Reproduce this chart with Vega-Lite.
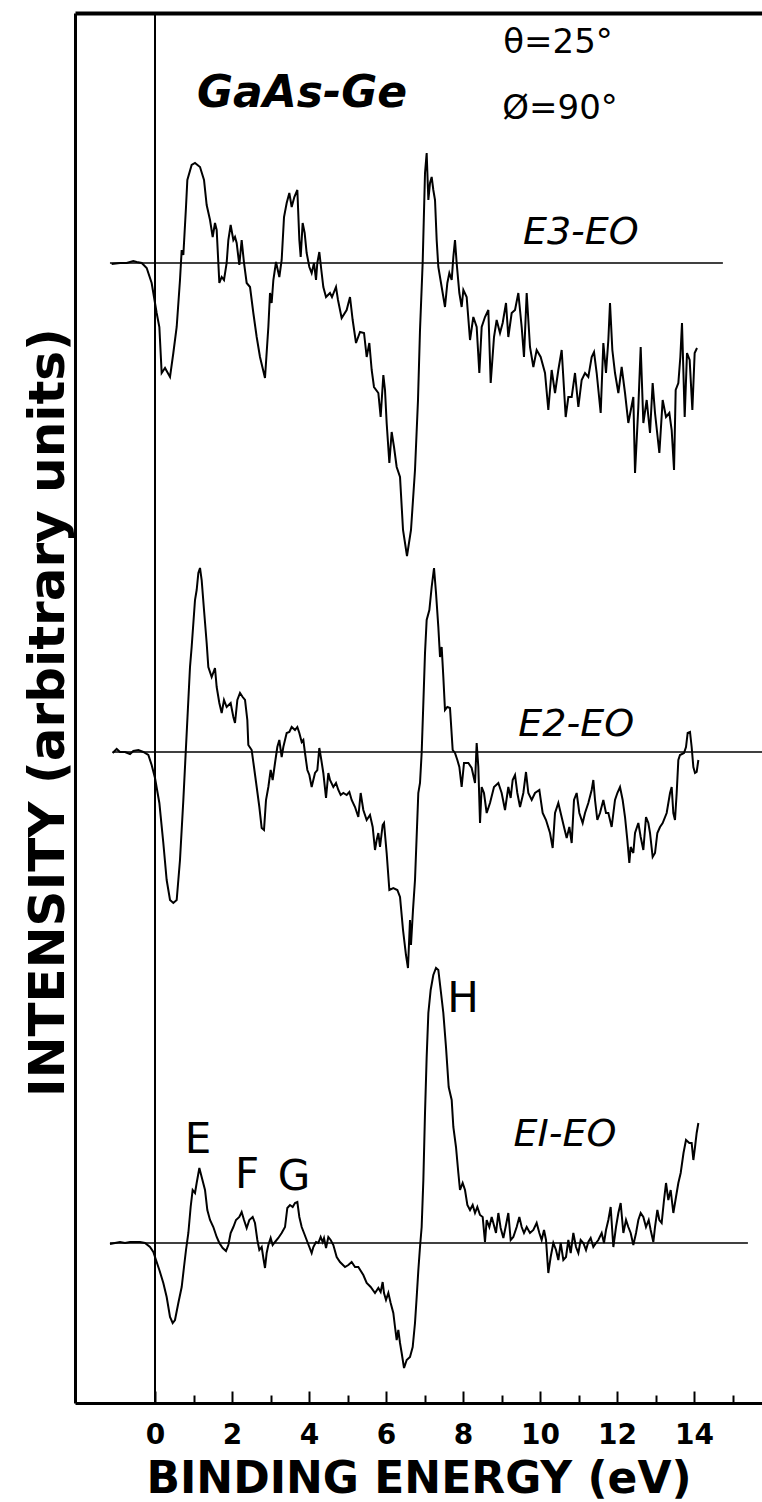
{
"$schema": "https://vega.github.io/schema/vega-lite/v6.json",
"width": 687, "height": 1390,
"autosize": {"type": "none"},
"padding": {"left": 75, "top": 13, "right": 0, "bottom": 99},
"background": "white",
"config": {"view": {"stroke": null}, "font": "DejaVu Sans"},
"datasets": {
"traces": [
{"series":"E3-E0","energy":-1.126,"intensity":1139},{"series":"E3-E0","energy":-0.909,"intensity":1140},{"series":"E3-E0","energy":-0.736,"intensity":1140},{"series":"E3-E0","energy":-0.563,"intensity":1142},{"series":"E3-E0","energy":-0.476,"intensity":1141},{"series":"E3-E0","energy":-0.346,"intensity":1140},{"series":"E3-E0","energy":-0.216,"intensity":1135},{"series":"E3-E0","energy":-0.087,"intensity":1120},{"series":"E3-E0","energy":-0.026,"intensity":1106},{"series":"E3-E0","energy":0.043,"intensity":1090},{"series":"E3-E0","energy":0.113,"intensity":1076},{"series":"E3-E0","energy":0.173,"intensity":1030},{"series":"E3-E0","energy":0.26,"intensity":1035},{"series":"E3-E0","energy":0.39,"intensity":1026},{"series":"E3-E0","energy":0.476,"intensity":1050},{"series":"E3-E0","energy":0.563,"intensity":1076},{"series":"E3-E0","energy":0.649,"intensity":1123},{"series":"E3-E0","energy":0.693,"intensity":1153},{"series":"E3-E0","energy":0.736,"intensity":1148},{"series":"E3-E0","energy":0.805,"intensity":1196},{"series":"E3-E0","energy":0.84,"intensity":1223},{"series":"E3-E0","energy":0.952,"intensity":1238},{"series":"E3-E0","energy":1.039,"intensity":1240},{"series":"E3-E0","energy":1.169,"intensity":1236},{"series":"E3-E0","energy":1.273,"intensity":1223},{"series":"E3-E0","energy":1.342,"intensity":1198},{"series":"E3-E0","energy":1.429,"intensity":1183},{"series":"E3-E0","energy":1.498,"intensity":1166},{"series":"E3-E0","energy":1.558,"intensity":1180},{"series":"E3-E0","energy":1.602,"intensity":1173},{"series":"E3-E0","energy":1.671,"intensity":1120},{"series":"E3-E0","energy":1.732,"intensity":1126},{"series":"E3-E0","energy":1.792,"intensity":1123},{"series":"E3-E0","energy":1.861,"intensity":1140},{"series":"E3-E0","energy":1.905,"intensity":1163},{"series":"E3-E0","energy":1.965,"intensity":1178},{"series":"E3-E0","energy":2.035,"intensity":1163},{"series":"E3-E0","energy":2.078,"intensity":1166},{"series":"E3-E0","energy":2.121,"intensity":1160},{"series":"E3-E0","energy":2.19,"intensity":1138},{"series":"E3-E0","energy":2.251,"intensity":1163},{"series":"E3-E0","energy":2.312,"intensity":1140},{"series":"E3-E0","energy":2.381,"intensity":1120},{"series":"E3-E0","energy":2.468,"intensity":1116},{"series":"E3-E0","energy":2.554,"intensity":1090},{"series":"E3-E0","energy":2.641,"intensity":1066},{"series":"E3-E0","energy":2.727,"intensity":1046},{"series":"E3-E0","energy":2.857,"intensity":1025},{"series":"E3-E0","energy":2.944,"intensity":1076},{"series":"E3-E0","energy":2.987,"intensity":1110},{"series":"E3-E0","energy":3.03,"intensity":1100},{"series":"E3-E0","energy":3.074,"intensity":1123},{"series":"E3-E0","energy":3.143,"intensity":1141},{"series":"E3-E0","energy":3.229,"intensity":1126},{"series":"E3-E0","energy":3.29,"intensity":1143},{"series":"E3-E0","energy":3.351,"intensity":1186},{"series":"E3-E0","energy":3.42,"intensity":1200},{"series":"E3-E0","energy":3.489,"intensity":1210},{"series":"E3-E0","energy":3.55,"intensity":1196},{"series":"E3-E0","energy":3.619,"intensity":1206},{"series":"E3-E0","energy":3.697,"intensity":1213},{"series":"E3-E0","energy":3.749,"intensity":1163},{"series":"E3-E0","energy":3.784,"intensity":1146},{"series":"E3-E0","energy":3.835,"intensity":1180},{"series":"E3-E0","energy":3.887,"intensity":1170},{"series":"E3-E0","energy":3.939,"intensity":1150},{"series":"E3-E0","energy":4.009,"intensity":1136},{"series":"E3-E0","energy":4.069,"intensity":1130},{"series":"E3-E0","energy":4.13,"intensity":1140},{"series":"E3-E0","energy":4.182,"intensity":1123},{"series":"E3-E0","energy":4.216,"intensity":1140},{"series":"E3-E0","energy":4.268,"intensity":1151},{"series":"E3-E0","energy":4.32,"intensity":1133},{"series":"E3-E0","energy":4.372,"intensity":1116},{"series":"E3-E0","energy":4.442,"intensity":1106},{"series":"E3-E0","energy":4.545,"intensity":1110},{"series":"E3-E0","energy":4.597,"intensity":1106},{"series":"E3-E0","energy":4.701,"intensity":1116},{"series":"E3-E0","energy":4.753,"intensity":1103},{"series":"E3-E0","energy":4.848,"intensity":1085},{"series":"E3-E0","energy":4.978,"intensity":1093},{"series":"E3-E0","energy":5.065,"intensity":1106},{"series":"E3-E0","energy":5.134,"intensity":1083},{"series":"E3-E0","energy":5.221,"intensity":1060},{"series":"E3-E0","energy":5.325,"intensity":1071},{"series":"E3-E0","energy":5.429,"intensity":1070},{"series":"E3-E0","energy":5.498,"intensity":1046},{"series":"E3-E0","energy":5.567,"intensity":1060},{"series":"E3-E0","energy":5.628,"intensity":1033},{"series":"E3-E0","energy":5.688,"intensity":1016},{"series":"E3-E0","energy":5.801,"intensity":1010},{"series":"E3-E0","energy":5.861,"intensity":986},{"series":"E3-E0","energy":5.931,"intensity":1028},{"series":"E3-E0","energy":5.974,"intensity":1013},{"series":"E3-E0","energy":6.017,"intensity":980},{"series":"E3-E0","energy":6.087,"intensity":940},{"series":"E3-E0","energy":6.147,"intensity":971},{"series":"E3-E0","energy":6.208,"intensity":956},{"series":"E3-E0","energy":6.277,"intensity":936},{"series":"E3-E0","energy":6.364,"intensity":926},{"series":"E3-E0","energy":6.442,"intensity":873},{"series":"E3-E0","energy":6.545,"intensity":847},{"series":"E3-E0","energy":6.649,"intensity":873},{"series":"E3-E0","energy":6.753,"intensity":933},{"series":"E3-E0","energy":6.831,"intensity":1003},{"series":"E3-E0","energy":6.883,"intensity":1073},{"series":"E3-E0","energy":6.952,"intensity":1140},{"series":"E3-E0","energy":7.013,"intensity":1230},{"series":"E3-E0","energy":7.056,"intensity":1250},{"series":"E3-E0","energy":7.1,"intensity":1203},{"series":"E3-E0","energy":7.143,"intensity":1220},{"series":"E3-E0","energy":7.186,"intensity":1226},{"series":"E3-E0","energy":7.229,"intensity":1213},{"series":"E3-E0","energy":7.273,"intensity":1203},{"series":"E3-E0","energy":7.316,"intensity":1163},{"series":"E3-E0","energy":7.359,"intensity":1136},{"series":"E3-E0","energy":7.446,"intensity":1116},{"series":"E3-E0","energy":7.532,"intensity":1096},{"series":"E3-E0","energy":7.593,"intensity":1120},{"series":"E3-E0","energy":7.645,"intensity":1130},{"series":"E3-E0","energy":7.706,"intensity":1123},{"series":"E3-E0","energy":7.749,"intensity":1146},{"series":"E3-E0","energy":7.792,"intensity":1163},{"series":"E3-E0","energy":7.835,"intensity":1140},{"series":"E3-E0","energy":7.905,"intensity":1110},{"series":"E3-E0","energy":7.965,"intensity":1096},{"series":"E3-E0","energy":8.009,"intensity":1113},{"series":"E3-E0","energy":8.095,"intensity":1106},{"series":"E3-E0","energy":8.182,"intensity":1063},{"series":"E3-E0","energy":8.268,"intensity":1086},{"series":"E3-E0","energy":8.355,"intensity":1076},{"series":"E3-E0","energy":8.424,"intensity":1030},{"series":"E3-E0","energy":8.485,"intensity":1076},{"series":"E3-E0","energy":8.571,"intensity":1086},{"series":"E3-E0","energy":8.658,"intensity":1093},{"series":"E3-E0","energy":8.719,"intensity":1020},{"series":"E3-E0","energy":8.805,"intensity":1066},{"series":"E3-E0","energy":8.874,"intensity":1083},{"series":"E3-E0","energy":8.961,"intensity":1070},{"series":"E3-E0","energy":9.03,"intensity":1080},{"series":"E3-E0","energy":9.117,"intensity":1100},{"series":"E3-E0","energy":9.177,"intensity":1066},{"series":"E3-E0","energy":9.264,"intensity":1090},{"series":"E3-E0","energy":9.351,"intensity":1093},{"series":"E3-E0","energy":9.437,"intensity":1110},{"series":"E3-E0","energy":9.524,"intensity":1076},{"series":"E3-E0","energy":9.584,"intensity":1046},{"series":"E3-E0","energy":9.654,"intensity":1110},{"series":"E3-E0","energy":9.74,"intensity":1056},{"series":"E3-E0","energy":9.827,"intensity":1036},{"series":"E3-E0","energy":9.913,"intensity":1053},{"series":"E3-E0","energy":10.017,"intensity":1046},{"series":"E3-E0","energy":10.13,"intensity":1030},{"series":"E3-E0","energy":10.216,"intensity":993},{"series":"E3-E0","energy":10.303,"intensity":1033},{"series":"E3-E0","energy":10.39,"intensity":1010},{"series":"E3-E0","energy":10.476,"intensity":1033},{"series":"E3-E0","energy":10.563,"intensity":1053},{"series":"E3-E0","energy":10.667,"intensity":986},{"series":"E3-E0","energy":10.736,"intensity":1006},{"series":"E3-E0","energy":10.823,"intensity":1006},{"series":"E3-E0","energy":10.909,"intensity":1030},{"series":"E3-E0","energy":10.996,"intensity":996},{"series":"E3-E0","energy":11.082,"intensity":1023},{"series":"E3-E0","energy":11.169,"intensity":1030},{"series":"E3-E0","energy":11.255,"intensity":1026},{"series":"E3-E0","energy":11.342,"intensity":1046},{"series":"E3-E0","energy":11.403,"intensity":1051},{"series":"E3-E0","energy":11.472,"intensity":1030},{"series":"E3-E0","energy":11.576,"intensity":990},{"series":"E3-E0","energy":11.645,"intensity":1060},{"series":"E3-E0","energy":11.714,"intensity":1030},{"series":"E3-E0","energy":11.775,"intensity":1063},{"series":"E3-E0","energy":11.818,"intensity":1100},{"series":"E3-E0","energy":11.879,"intensity":1053},{"series":"E3-E0","energy":11.948,"intensity":1030},{"series":"E3-E0","energy":12.035,"intensity":1010},{"series":"E3-E0","energy":12.121,"intensity":1036},{"series":"E3-E0","energy":12.208,"intensity":1010},{"series":"E3-E0","energy":12.294,"intensity":980},{"series":"E3-E0","energy":12.424,"intensity":1006},{"series":"E3-E0","energy":12.468,"intensity":930},{"series":"E3-E0","energy":12.554,"intensity":996},{"series":"E3-E0","energy":12.615,"intensity":1056},{"series":"E3-E0","energy":12.684,"intensity":980},{"series":"E3-E0","energy":12.771,"intensity":1003},{"series":"E3-E0","energy":12.857,"intensity":970},{"series":"E3-E0","energy":12.926,"intensity":1020},{"series":"E3-E0","energy":12.987,"intensity":990},{"series":"E3-E0","energy":13.1,"intensity":950},{"series":"E3-E0","energy":13.186,"intensity":1003},{"series":"E3-E0","energy":13.273,"intensity":986},{"series":"E3-E0","energy":13.359,"intensity":990},{"series":"E3-E0","energy":13.42,"intensity":973},{"series":"E3-E0","energy":13.481,"intensity":933},{"series":"E3-E0","energy":13.524,"intensity":1013},{"series":"E3-E0","energy":13.593,"intensity":1020},{"series":"E3-E0","energy":13.645,"intensity":1046},{"series":"E3-E0","energy":13.688,"intensity":1080},{"series":"E3-E0","energy":13.758,"intensity":986},{"series":"E3-E0","energy":13.818,"intensity":1050},{"series":"E3-E0","energy":13.887,"intensity":1043},{"series":"E3-E0","energy":13.957,"intensity":993},{"series":"E3-E0","energy":14.017,"intensity":1050},{"series":"E3-E0","energy":14.078,"intensity":1055},
{"series":"E2-E0","energy":-1.1,"intensity":650},{"series":"E2-E0","energy":-0.996,"intensity":654},{"series":"E2-E0","energy":-0.909,"intensity":651},{"series":"E2-E0","energy":-0.779,"intensity":651},{"series":"E2-E0","energy":-0.649,"intensity":649},{"series":"E2-E0","energy":-0.563,"intensity":652},{"series":"E2-E0","energy":-0.433,"intensity":653},{"series":"E2-E0","energy":-0.303,"intensity":651},{"series":"E2-E0","energy":-0.173,"intensity":648},{"series":"E2-E0","energy":-0.087,"intensity":638},{"series":"E2-E0","energy":0.0,"intensity":625},{"series":"E2-E0","energy":0.113,"intensity":600},{"series":"E2-E0","energy":0.216,"intensity":560},{"series":"E2-E0","energy":0.303,"intensity":523},{"series":"E2-E0","energy":0.39,"intensity":503},{"series":"E2-E0","energy":0.476,"intensity":500},{"series":"E2-E0","energy":0.563,"intensity":503},{"series":"E2-E0","energy":0.606,"intensity":523},{"series":"E2-E0","energy":0.649,"intensity":543},{"series":"E2-E0","energy":0.736,"intensity":603},{"series":"E2-E0","energy":0.84,"intensity":683},{"series":"E2-E0","energy":0.909,"intensity":736},{"series":"E2-E0","energy":0.952,"intensity":756},{"series":"E2-E0","energy":1.039,"intensity":803},{"series":"E2-E0","energy":1.082,"intensity":813},{"series":"E2-E0","energy":1.126,"intensity":830},{"series":"E2-E0","energy":1.169,"intensity":835},{"series":"E2-E0","energy":1.212,"intensity":823},{"series":"E2-E0","energy":1.273,"intensity":793},{"series":"E2-E0","energy":1.342,"intensity":760},{"series":"E2-E0","energy":1.385,"intensity":736},{"series":"E2-E0","energy":1.472,"intensity":726},{"series":"E2-E0","energy":1.558,"intensity":735},{"series":"E2-E0","energy":1.602,"intensity":716},{"series":"E2-E0","energy":1.671,"intensity":700},{"series":"E2-E0","energy":1.732,"intensity":690},{"series":"E2-E0","energy":1.792,"intensity":703},{"series":"E2-E0","energy":1.861,"intensity":696},{"series":"E2-E0","energy":1.965,"intensity":700},{"series":"E2-E0","energy":2.035,"intensity":686},{"series":"E2-E0","energy":2.078,"intensity":680},{"series":"E2-E0","energy":2.139,"intensity":703},{"series":"E2-E0","energy":2.208,"intensity":710},{"series":"E2-E0","energy":2.277,"intensity":706},{"series":"E2-E0","energy":2.338,"intensity":703},{"series":"E2-E0","energy":2.398,"intensity":683},{"series":"E2-E0","energy":2.424,"intensity":658},{"series":"E2-E0","energy":2.511,"intensity":653},{"series":"E2-E0","energy":2.571,"intensity":636},{"series":"E2-E0","energy":2.641,"intensity":616},{"series":"E2-E0","energy":2.71,"intensity":596},{"series":"E2-E0","energy":2.771,"intensity":575},{"series":"E2-E0","energy":2.831,"intensity":573},{"series":"E2-E0","energy":2.883,"intensity":603},{"series":"E2-E0","energy":2.944,"intensity":616},{"series":"E2-E0","energy":3.004,"intensity":633},{"series":"E2-E0","energy":3.056,"intensity":623},{"series":"E2-E0","energy":3.117,"intensity":640},{"series":"E2-E0","energy":3.177,"intensity":656},{"series":"E2-E0","energy":3.229,"intensity":663},{"series":"E2-E0","energy":3.29,"intensity":646},{"series":"E2-E0","energy":3.333,"intensity":656},{"series":"E2-E0","energy":3.42,"intensity":670},{"series":"E2-E0","energy":3.489,"intensity":671},{"series":"E2-E0","energy":3.55,"intensity":676},{"series":"E2-E0","energy":3.636,"intensity":673},{"series":"E2-E0","energy":3.697,"intensity":676},{"series":"E2-E0","energy":3.749,"intensity":670},{"series":"E2-E0","energy":3.81,"intensity":661},{"series":"E2-E0","energy":3.853,"intensity":663},{"series":"E2-E0","energy":3.896,"intensity":650},{"series":"E2-E0","energy":3.957,"intensity":633},{"series":"E2-E0","energy":4.009,"intensity":628},{"series":"E2-E0","energy":4.069,"intensity":616},{"series":"E2-E0","energy":4.156,"intensity":630},{"series":"E2-E0","energy":4.216,"intensity":633},{"series":"E2-E0","energy":4.268,"intensity":655},{"series":"E2-E0","energy":4.32,"intensity":643},{"series":"E2-E0","energy":4.372,"intensity":630},{"series":"E2-E0","energy":4.442,"intensity":605},{"series":"E2-E0","energy":4.502,"intensity":630},{"series":"E2-E0","energy":4.545,"intensity":623},{"series":"E2-E0","energy":4.632,"intensity":616},{"series":"E2-E0","energy":4.701,"intensity":620},{"series":"E2-E0","energy":4.762,"intensity":613},{"series":"E2-E0","energy":4.823,"intensity":608},{"series":"E2-E0","energy":4.892,"intensity":610},{"series":"E2-E0","energy":4.978,"intensity":608},{"series":"E2-E0","energy":5.048,"intensity":611},{"series":"E2-E0","energy":5.108,"intensity":603},{"series":"E2-E0","energy":5.195,"intensity":596},{"series":"E2-E0","energy":5.281,"intensity":586},{"series":"E2-E0","energy":5.342,"intensity":610},{"series":"E2-E0","energy":5.411,"intensity":593},{"series":"E2-E0","energy":5.498,"intensity":583},{"series":"E2-E0","energy":5.584,"intensity":588},{"series":"E2-E0","energy":5.654,"intensity":576},{"series":"E2-E0","energy":5.714,"intensity":553},{"series":"E2-E0","energy":5.758,"intensity":563},{"series":"E2-E0","energy":5.801,"intensity":570},{"series":"E2-E0","energy":5.844,"intensity":556},{"series":"E2-E0","energy":5.913,"intensity":578},{"series":"E2-E0","energy":5.948,"intensity":580},{"series":"E2-E0","energy":6.017,"intensity":550},{"series":"E2-E0","energy":6.087,"intensity":513},{"series":"E2-E0","energy":6.19,"intensity":515},{"series":"E2-E0","energy":6.294,"intensity":513},{"series":"E2-E0","energy":6.364,"intensity":506},{"series":"E2-E0","energy":6.442,"intensity":473},{"series":"E2-E0","energy":6.519,"intensity":448},{"series":"E2-E0","energy":6.571,"intensity":435},{"series":"E2-E0","energy":6.623,"intensity":483},{"series":"E2-E0","energy":6.649,"intensity":458},{"series":"E2-E0","energy":6.701,"intensity":493},{"series":"E2-E0","energy":6.753,"intensity":523},{"series":"E2-E0","energy":6.839,"intensity":610},{"series":"E2-E0","energy":6.883,"intensity":620},{"series":"E2-E0","energy":6.926,"intensity":650},{"series":"E2-E0","energy":6.97,"intensity":700},{"series":"E2-E0","energy":7.013,"intensity":750},{"series":"E2-E0","energy":7.056,"intensity":783},{"series":"E2-E0","energy":7.126,"intensity":793},{"series":"E2-E0","energy":7.186,"intensity":816},{"series":"E2-E0","energy":7.247,"intensity":835},{"series":"E2-E0","energy":7.299,"intensity":810},{"series":"E2-E0","energy":7.359,"intensity":776},{"series":"E2-E0","energy":7.403,"intensity":746},{"series":"E2-E0","energy":7.446,"intensity":756},{"series":"E2-E0","energy":7.489,"intensity":726},{"series":"E2-E0","energy":7.532,"intensity":693},{"series":"E2-E0","energy":7.593,"intensity":696},{"series":"E2-E0","energy":7.662,"intensity":695},{"series":"E2-E0","energy":7.732,"intensity":653},{"series":"E2-E0","energy":7.792,"intensity":650},{"series":"E2-E0","energy":7.853,"intensity":643},{"series":"E2-E0","energy":7.905,"intensity":636},{"series":"E2-E0","energy":7.965,"intensity":616},{"series":"E2-E0","energy":8.026,"intensity":640},{"series":"E2-E0","energy":8.139,"intensity":640},{"series":"E2-E0","energy":8.225,"intensity":635},{"series":"E2-E0","energy":8.312,"intensity":620},{"series":"E2-E0","energy":8.355,"intensity":660},{"series":"E2-E0","energy":8.398,"intensity":636},{"series":"E2-E0","energy":8.442,"intensity":580},{"series":"E2-E0","energy":8.485,"intensity":616},{"series":"E2-E0","energy":8.545,"intensity":610},{"series":"E2-E0","energy":8.615,"intensity":590},{"series":"E2-E0","energy":8.701,"intensity":600},{"series":"E2-E0","energy":8.805,"intensity":616},{"series":"E2-E0","energy":8.918,"intensity":620},{"series":"E2-E0","energy":9.004,"intensity":610},{"series":"E2-E0","energy":9.091,"intensity":593},{"series":"E2-E0","energy":9.177,"intensity":616},{"series":"E2-E0","energy":9.238,"intensity":605},{"series":"E2-E0","energy":9.29,"intensity":623},{"series":"E2-E0","energy":9.351,"intensity":628},{"series":"E2-E0","energy":9.411,"intensity":610},{"series":"E2-E0","energy":9.481,"intensity":596},{"series":"E2-E0","energy":9.567,"intensity":610},{"series":"E2-E0","energy":9.636,"intensity":631},{"series":"E2-E0","energy":9.697,"intensity":610},{"series":"E2-E0","energy":9.784,"intensity":603},{"series":"E2-E0","energy":9.87,"intensity":610},{"series":"E2-E0","energy":9.983,"intensity":613},{"series":"E2-E0","energy":10.069,"intensity":590},{"series":"E2-E0","energy":10.156,"intensity":583},{"series":"E2-E0","energy":10.26,"intensity":570},{"series":"E2-E0","energy":10.329,"intensity":555},{"series":"E2-E0","energy":10.39,"intensity":590},{"series":"E2-E0","energy":10.476,"intensity":600},{"series":"E2-E0","energy":10.537,"intensity":590},{"series":"E2-E0","energy":10.623,"intensity":576},{"series":"E2-E0","energy":10.693,"intensity":565},{"series":"E2-E0","energy":10.762,"intensity":576},{"series":"E2-E0","energy":10.823,"intensity":560},{"series":"E2-E0","energy":10.883,"intensity":603},{"series":"E2-E0","energy":10.952,"intensity":610},{"series":"E2-E0","energy":11.022,"intensity":590},{"series":"E2-E0","energy":11.108,"intensity":580},{"series":"E2-E0","energy":11.169,"intensity":590},{"series":"E2-E0","energy":11.255,"intensity":600},{"series":"E2-E0","energy":11.342,"intensity":613},{"series":"E2-E0","energy":11.385,"intensity":623},{"series":"E2-E0","energy":11.429,"intensity":603},{"series":"E2-E0","energy":11.489,"intensity":583},{"series":"E2-E0","energy":11.558,"intensity":590},{"series":"E2-E0","energy":11.645,"intensity":603},{"series":"E2-E0","energy":11.714,"intensity":590},{"series":"E2-E0","energy":11.775,"intensity":590},{"series":"E2-E0","energy":11.861,"intensity":576},{"series":"E2-E0","energy":11.948,"intensity":603},{"series":"E2-E0","energy":12.009,"intensity":610},{"series":"E2-E0","energy":12.078,"intensity":616},{"series":"E2-E0","energy":12.147,"intensity":603},{"series":"E2-E0","energy":12.208,"intensity":586},{"series":"E2-E0","energy":12.268,"intensity":563},{"series":"E2-E0","energy":12.32,"intensity":540},{"series":"E2-E0","energy":12.355,"intensity":556},{"series":"E2-E0","energy":12.424,"intensity":550},{"series":"E2-E0","energy":12.468,"intensity":570},{"series":"E2-E0","energy":12.554,"intensity":580},{"series":"E2-E0","energy":12.615,"intensity":566},{"series":"E2-E0","energy":12.684,"intensity":553},{"series":"E2-E0","energy":12.753,"intensity":586},{"series":"E2-E0","energy":12.814,"intensity":580},{"series":"E2-E0","energy":12.857,"intensity":570},{"series":"E2-E0","energy":12.926,"intensity":546},{"series":"E2-E0","energy":12.987,"intensity":550},{"series":"E2-E0","energy":13.048,"intensity":570},{"series":"E2-E0","energy":13.117,"intensity":576},{"series":"E2-E0","energy":13.186,"intensity":580},{"series":"E2-E0","energy":13.29,"intensity":590},{"series":"E2-E0","energy":13.377,"intensity":610},{"series":"E2-E0","energy":13.42,"intensity":616},{"series":"E2-E0","energy":13.463,"intensity":590},{"series":"E2-E0","energy":13.506,"intensity":583},{"series":"E2-E0","energy":13.55,"intensity":610},{"series":"E2-E0","energy":13.593,"intensity":643},{"series":"E2-E0","energy":13.636,"intensity":648},{"series":"E2-E0","energy":13.74,"intensity":650},{"series":"E2-E0","energy":13.792,"intensity":656},{"series":"E2-E0","energy":13.835,"intensity":670},{"series":"E2-E0","energy":13.896,"intensity":671},{"series":"E2-E0","energy":13.939,"intensity":656},{"series":"E2-E0","energy":13.983,"intensity":636},{"series":"E2-E0","energy":14.026,"intensity":630},{"series":"E2-E0","energy":14.069,"intensity":631},{"series":"E2-E0","energy":14.113,"intensity":643},
{"series":"E1-E0","energy":-1.169,"intensity":159},{"series":"E1-E0","energy":-1.039,"intensity":160},{"series":"E1-E0","energy":-0.909,"intensity":161},{"series":"E1-E0","energy":-0.779,"intensity":160},{"series":"E1-E0","energy":-0.649,"intensity":161},{"series":"E1-E0","energy":-0.519,"intensity":161},{"series":"E1-E0","energy":-0.39,"intensity":161},{"series":"E1-E0","energy":-0.26,"intensity":160},{"series":"E1-E0","energy":-0.13,"intensity":156},{"series":"E1-E0","energy":-0.043,"intensity":151},{"series":"E1-E0","energy":0.026,"intensity":143},{"series":"E1-E0","energy":0.113,"intensity":133},{"series":"E1-E0","energy":0.216,"intensity":120},{"series":"E1-E0","energy":0.303,"intensity":106},{"series":"E1-E0","energy":0.39,"intensity":86},{"series":"E1-E0","energy":0.459,"intensity":80},{"series":"E1-E0","energy":0.519,"intensity":83},{"series":"E1-E0","energy":0.606,"intensity":100},{"series":"E1-E0","energy":0.693,"intensity":116},{"series":"E1-E0","energy":0.753,"intensity":136},{"series":"E1-E0","energy":0.805,"intensity":153},{"series":"E1-E0","energy":0.866,"intensity":170},{"series":"E1-E0","energy":0.926,"intensity":196},{"series":"E1-E0","energy":0.978,"intensity":213},{"series":"E1-E0","energy":1.039,"intensity":210},{"series":"E1-E0","energy":1.082,"intensity":220},{"series":"E1-E0","energy":1.152,"intensity":235},{"series":"E1-E0","energy":1.212,"intensity":226},{"series":"E1-E0","energy":1.299,"intensity":213},{"series":"E1-E0","energy":1.359,"intensity":193},{"series":"E1-E0","energy":1.429,"intensity":183},{"series":"E1-E0","energy":1.515,"intensity":176},{"series":"E1-E0","energy":1.602,"intensity":166},{"series":"E1-E0","energy":1.671,"intensity":160},{"series":"E1-E0","energy":1.758,"intensity":155},{"series":"E1-E0","energy":1.844,"intensity":152},{"series":"E1-E0","energy":1.905,"intensity":158},{"series":"E1-E0","energy":1.965,"intensity":170},{"series":"E1-E0","energy":2.035,"intensity":176},{"series":"E1-E0","energy":2.104,"intensity":183},{"series":"E1-E0","energy":2.19,"intensity":186},{"series":"E1-E0","energy":2.251,"intensity":191},{"series":"E1-E0","energy":2.312,"intensity":183},{"series":"E1-E0","energy":2.381,"intensity":175},{"series":"E1-E0","energy":2.45,"intensity":183},{"series":"E1-E0","energy":2.537,"intensity":186},{"series":"E1-E0","energy":2.597,"intensity":180},{"series":"E1-E0","energy":2.658,"intensity":163},{"series":"E1-E0","energy":2.71,"intensity":153},{"series":"E1-E0","energy":2.771,"intensity":156},{"series":"E1-E0","energy":2.814,"intensity":145},{"series":"E1-E0","energy":2.857,"intensity":135},{"series":"E1-E0","energy":2.9,"intensity":150},{"series":"E1-E0","energy":2.944,"intensity":158},{"series":"E1-E0","energy":3.004,"intensity":165},{"series":"E1-E0","energy":3.056,"intensity":158},{"series":"E1-E0","energy":3.117,"intensity":161},{"series":"E1-E0","energy":3.203,"intensity":165},{"series":"E1-E0","energy":3.29,"intensity":170},{"series":"E1-E0","energy":3.377,"intensity":176},{"series":"E1-E0","energy":3.437,"intensity":195},{"series":"E1-E0","energy":3.506,"intensity":198},{"series":"E1-E0","energy":3.576,"intensity":196},{"series":"E1-E0","energy":3.636,"intensity":200},{"series":"E1-E0","energy":3.697,"intensity":201},{"series":"E1-E0","energy":3.749,"intensity":186},{"series":"E1-E0","energy":3.81,"intensity":176},{"series":"E1-E0","energy":3.87,"intensity":170},{"series":"E1-E0","energy":3.939,"intensity":163},{"series":"E1-E0","energy":4.009,"intensity":156},{"series":"E1-E0","energy":4.069,"intensity":150},{"series":"E1-E0","energy":4.113,"intensity":156},{"series":"E1-E0","energy":4.182,"intensity":161},{"series":"E1-E0","energy":4.242,"intensity":160},{"series":"E1-E0","energy":4.303,"intensity":166},{"series":"E1-E0","energy":4.355,"intensity":161},{"series":"E1-E0","energy":4.39,"intensity":165},{"series":"E1-E0","energy":4.442,"intensity":155},{"series":"E1-E0","energy":4.502,"intensity":166},{"series":"E1-E0","energy":4.563,"intensity":163},{"series":"E1-E0","energy":4.632,"intensity":158},{"series":"E1-E0","energy":4.719,"intensity":146},{"series":"E1-E0","energy":4.805,"intensity":141},{"series":"E1-E0","energy":4.935,"intensity":136},{"series":"E1-E0","energy":5.022,"intensity":138},{"series":"E1-E0","energy":5.108,"intensity":141},{"series":"E1-E0","energy":5.195,"intensity":136},{"series":"E1-E0","energy":5.281,"intensity":136},{"series":"E1-E0","energy":5.411,"intensity":128},{"series":"E1-E0","energy":5.498,"intensity":120},{"series":"E1-E0","energy":5.602,"intensity":116},{"series":"E1-E0","energy":5.714,"intensity":110},{"series":"E1-E0","energy":5.801,"intensity":115},{"series":"E1-E0","energy":5.861,"intensity":111},{"series":"E1-E0","energy":5.913,"intensity":121},{"series":"E1-E0","energy":5.948,"intensity":110},{"series":"E1-E0","energy":6.0,"intensity":103},{"series":"E1-E0","energy":6.061,"intensity":110},{"series":"E1-E0","energy":6.121,"intensity":100},{"series":"E1-E0","energy":6.19,"intensity":90},{"series":"E1-E0","energy":6.234,"intensity":76},{"series":"E1-E0","energy":6.277,"intensity":63},{"series":"E1-E0","energy":6.32,"intensity":73},{"series":"E1-E0","energy":6.364,"intensity":60},{"series":"E1-E0","energy":6.407,"intensity":50},{"series":"E1-E0","energy":6.468,"intensity":35},{"series":"E1-E0","energy":6.537,"intensity":43},{"series":"E1-E0","energy":6.623,"intensity":46},{"series":"E1-E0","energy":6.693,"intensity":56},{"series":"E1-E0","energy":6.753,"intensity":80},{"series":"E1-E0","energy":6.797,"intensity":106},{"series":"E1-E0","energy":6.84,"intensity":133},{"series":"E1-E0","energy":6.883,"intensity":156},{"series":"E1-E0","energy":6.926,"intensity":176},{"series":"E1-E0","energy":6.97,"intensity":223},{"series":"E1-E0","energy":7.013,"intensity":290},{"series":"E1-E0","energy":7.056,"intensity":346},{"series":"E1-E0","energy":7.1,"intensity":390},{"series":"E1-E0","energy":7.16,"intensity":413},{"series":"E1-E0","energy":7.229,"intensity":428},{"series":"E1-E0","energy":7.299,"intensity":435},{"series":"E1-E0","energy":7.359,"intensity":433},{"series":"E1-E0","energy":7.42,"intensity":413},{"series":"E1-E0","energy":7.489,"intensity":390},{"series":"E1-E0","energy":7.558,"intensity":356},{"series":"E1-E0","energy":7.628,"intensity":316},{"series":"E1-E0","energy":7.706,"intensity":303},{"series":"E1-E0","energy":7.749,"intensity":276},{"series":"E1-E0","energy":7.818,"intensity":256},{"series":"E1-E0","energy":7.879,"intensity":230},{"series":"E1-E0","energy":7.922,"intensity":213},{"series":"E1-E0","energy":7.991,"intensity":220},{"series":"E1-E0","energy":8.052,"intensity":213},{"series":"E1-E0","energy":8.113,"intensity":198},{"series":"E1-E0","energy":8.182,"intensity":193},{"series":"E1-E0","energy":8.251,"intensity":198},{"series":"E1-E0","energy":8.312,"intensity":190},{"series":"E1-E0","energy":8.372,"intensity":196},{"series":"E1-E0","energy":8.442,"intensity":188},{"series":"E1-E0","energy":8.511,"intensity":186},{"series":"E1-E0","energy":8.571,"intensity":161},{"series":"E1-E0","energy":8.615,"intensity":183},{"series":"E1-E0","energy":8.684,"intensity":176},{"series":"E1-E0","energy":8.745,"intensity":186},{"series":"E1-E0","energy":8.788,"intensity":180},{"series":"E1-E0","energy":8.857,"intensity":170},{"series":"E1-E0","energy":8.918,"intensity":190},{"series":"E1-E0","energy":8.978,"intensity":175},{"series":"E1-E0","energy":9.048,"intensity":165},{"series":"E1-E0","energy":9.117,"intensity":178},{"series":"E1-E0","energy":9.177,"intensity":190},{"series":"E1-E0","energy":9.238,"intensity":163},{"series":"E1-E0","energy":9.307,"intensity":166},{"series":"E1-E0","energy":9.394,"intensity":176},{"series":"E1-E0","energy":9.463,"intensity":186},{"series":"E1-E0","energy":9.524,"intensity":176},{"series":"E1-E0","energy":9.584,"intensity":170},{"series":"E1-E0","energy":9.654,"intensity":176},{"series":"E1-E0","energy":9.74,"intensity":170},{"series":"E1-E0","energy":9.827,"intensity":173},{"series":"E1-E0","energy":9.913,"intensity":180},{"series":"E1-E0","energy":9.983,"intensity":170},{"series":"E1-E0","energy":10.043,"intensity":163},{"series":"E1-E0","energy":10.104,"intensity":173},{"series":"E1-E0","energy":10.156,"intensity":163},{"series":"E1-E0","energy":10.216,"intensity":130},{"series":"E1-E0","energy":10.277,"intensity":146},{"series":"E1-E0","energy":10.346,"intensity":160},{"series":"E1-E0","energy":10.416,"intensity":153},{"series":"E1-E0","energy":10.476,"intensity":143},{"series":"E1-E0","energy":10.537,"intensity":160},{"series":"E1-E0","energy":10.606,"intensity":143},{"series":"E1-E0","energy":10.675,"intensity":146},{"series":"E1-E0","energy":10.736,"intensity":163},{"series":"E1-E0","energy":10.797,"intensity":150},{"series":"E1-E0","energy":10.866,"intensity":170},{"series":"E1-E0","energy":10.935,"intensity":156},{"series":"E1-E0","energy":10.996,"intensity":150},{"series":"E1-E0","energy":11.056,"intensity":163},{"series":"E1-E0","energy":11.126,"intensity":160},{"series":"E1-E0","energy":11.195,"intensity":153},{"series":"E1-E0","energy":11.255,"intensity":161},{"series":"E1-E0","energy":11.316,"intensity":165},{"series":"E1-E0","energy":11.385,"intensity":156},{"series":"E1-E0","energy":11.455,"intensity":160},{"series":"E1-E0","energy":11.515,"intensity":163},{"series":"E1-E0","energy":11.602,"intensity":170},{"series":"E1-E0","energy":11.662,"intensity":160},{"series":"E1-E0","energy":11.714,"intensity":173},{"series":"E1-E0","energy":11.775,"intensity":183},{"series":"E1-E0","energy":11.835,"intensity":196},{"series":"E1-E0","energy":11.905,"intensity":156},{"series":"E1-E0","energy":11.974,"intensity":176},{"series":"E1-E0","energy":12.035,"intensity":190},{"series":"E1-E0","energy":12.095,"intensity":200},{"series":"E1-E0","energy":12.165,"intensity":170},{"series":"E1-E0","energy":12.234,"intensity":183},{"series":"E1-E0","energy":12.294,"intensity":176},{"series":"E1-E0","energy":12.355,"intensity":170},{"series":"E1-E0","energy":12.424,"intensity":158},{"series":"E1-E0","energy":12.494,"intensity":170},{"series":"E1-E0","energy":12.554,"intensity":183},{"series":"E1-E0","energy":12.615,"intensity":190},{"series":"E1-E0","energy":12.684,"intensity":186},{"series":"E1-E0","energy":12.753,"intensity":176},{"series":"E1-E0","energy":12.823,"intensity":183},{"series":"E1-E0","energy":12.874,"intensity":173},{"series":"E1-E0","energy":12.944,"intensity":161},{"series":"E1-E0","energy":12.987,"intensity":176},{"series":"E1-E0","energy":13.048,"intensity":193},{"series":"E1-E0","energy":13.1,"intensity":183},{"series":"E1-E0","energy":13.16,"intensity":180},{"series":"E1-E0","energy":13.221,"intensity":203},{"series":"E1-E0","energy":13.273,"intensity":220},{"series":"E1-E0","energy":13.333,"intensity":203},{"series":"E1-E0","energy":13.394,"intensity":213},{"series":"E1-E0","energy":13.463,"intensity":190},{"series":"E1-E0","energy":13.532,"intensity":206},{"series":"E1-E0","energy":13.593,"intensity":220},{"series":"E1-E0","energy":13.654,"intensity":230},{"series":"E1-E0","energy":13.727,"intensity":250},{"series":"E1-E0","energy":13.792,"intensity":263},{"series":"E1-E0","energy":13.879,"intensity":260},{"series":"E1-E0","energy":13.939,"intensity":260},{"series":"E1-E0","energy":13.983,"intensity":243},{"series":"E1-E0","energy":14.026,"intensity":256},{"series":"E1-E0","energy":14.069,"intensity":270},{"series":"E1-E0","energy":14.113,"intensity":280}
],
"baselines": [
{"series":"E3-E0","energy":-1.17,"energy_end":14.75,"intensity":1140},
{"series":"E2-E0","energy":-1.1,"energy_end":15.77,"intensity":651},
{"series":"E1-E0","energy":-1.17,"energy_end":15.4,"intensity":160}
],
"zero": [{"energy": 0}],
"title": [{"energy": 3.82, "intensity": 1309, "text": "GaAs-Ge"}],
"angles": [{"energy": 10.47, "intensity": 1360, "text": "θ=25°"}, {"energy": 10.52, "intensity": 1294, "text": "Ø=90°"}],
"curves": [{"energy": 11.06, "intensity": 1170, "text": "E3-EO"}, {"energy": 10.94, "intensity": 678, "text": "E2-EO"}, {"energy": 10.65, "intensity": 268, "text": "EI-EO"}],
"peaks": [{"energy": 1.12, "intensity": 263, "text": "E"}, {"energy": 2.39, "intensity": 228, "text": "F"}, {"energy": 3.61, "intensity": 226, "text": "G"}, {"energy": 8.0, "intensity": 404, "text": "H"}]
},
"layer": [
{"data": {"name": "traces"},
 "mark": {"type": "line", "color": "black", "strokeWidth": 2},
 "encoding": {
  "x": {"field": "energy", "type": "quantitative", "scale": {"domain": [-2.078, 15.766], "nice": false, "zero": false},
        "axis": {"orient": "bottom", "values": [0,2,4,6,8,10,12,14], "format": "d",
                 "tickSize": -12, "tickWidth": 2, "tickColor": "black",
                 "domain": true, "domainWidth": 3, "domainColor": "black", "grid": false,
                 "labelFont": "DejaVu Sans", "labelFontSize": 28, "labelFontWeight": "bold", "labelColor": "black", "labelPadding": 30,
                 "labelFlush": false, "labelOverlap": false,
                 "title": "BINDING ENERGY (eV)", "titleFont": "DejaVu Sans", "titleFontSize": 44, "titleFontWeight": "bold",
                 "titleColor": "black", "titleBaseline": "alphabetic", "titleY": 89}},
  "y": {"field": "intensity", "type": "quantitative", "scale": {"domain": [0, 1390], "nice": false, "zero": false},
        "axis": {"orient": "left", "ticks": false, "labels": false, "grid": false, "domain": true, "domainWidth": 3, "domainColor": "black",
                 "title": "INTENSITY (arbitrary units)", "titleFont": "DejaVu Sans", "titleFontSize": 50, "titleFontWeight": "bold",
                 "titleColor": "black", "titleAngle": 270, "titleAlign": "center", "titleBaseline": "alphabetic", "titleX": -12, "titleY": 699}},
  "detail": {"field": "series"}
 }},
{"data": {"name": "baselines"},
 "mark": {"type": "rule", "color": "black", "strokeWidth": 1.6},
 "encoding": {
  "x": {"field": "energy", "type": "quantitative",
        "axis": {"orient": "bottom", "values": [1,3,5,7,9,11,13,15], "labels": false, "tickSize": -8, "tickWidth": 2, "tickColor": "black",
                 "domain": false, "grid": false, "title": null}},
  "x2": {"field": "energy_end"},
  "y": {"field": "intensity", "type": "quantitative"}
 }},
{"data": {"name": "zero"},
 "mark": {"type": "rule", "color": "black", "strokeWidth": 2},
 "encoding": {
  "x": {"field": "energy", "type": "quantitative",
        "axis": {"orient": "top", "domain": true, "domainWidth": 4, "domainColor": "black", "ticks": false, "labels": false, "grid": false, "title": null}}
 }},
{"data": {"name": "title"},
 "mark": {"type": "text", "font": "DejaVu Sans", "fontSize": 44, "fontStyle": "italic", "fontWeight": "bold", "color": "black", "align": "center", "baseline": "middle"},
 "encoding": {"x": {"field": "energy", "type": "quantitative", "axis": null}, "y": {"field": "intensity", "type": "quantitative"}, "text": {"field": "text"}}},
{"data": {"name": "angles"},
 "mark": {"type": "text", "font": "DejaVu Sans", "fontSize": 34, "color": "black", "align": "center", "baseline": "middle"},
 "encoding": {"x": {"field": "energy", "type": "quantitative", "axis": null}, "y": {"field": "intensity", "type": "quantitative"}, "text": {"field": "text"}}},
{"data": {"name": "curves"},
 "mark": {"type": "text", "font": "DejaVu Sans", "fontSize": 38, "fontStyle": "italic", "color": "black", "align": "center", "baseline": "middle"},
 "encoding": {"x": {"field": "energy", "type": "quantitative", "axis": null}, "y": {"field": "intensity", "type": "quantitative"}, "text": {"field": "text"}}},
{"data": {"name": "peaks"},
 "mark": {"type": "text", "font": "DejaVu Sans", "fontSize": 42, "color": "black", "align": "center", "baseline": "middle"},
 "encoding": {"x": {"field": "energy", "type": "quantitative", "axis": null}, "y": {"field": "intensity", "type": "quantitative"}, "text": {"field": "text"}}}
],
"resolve": {"axis": {"x": "independent"}}
}
